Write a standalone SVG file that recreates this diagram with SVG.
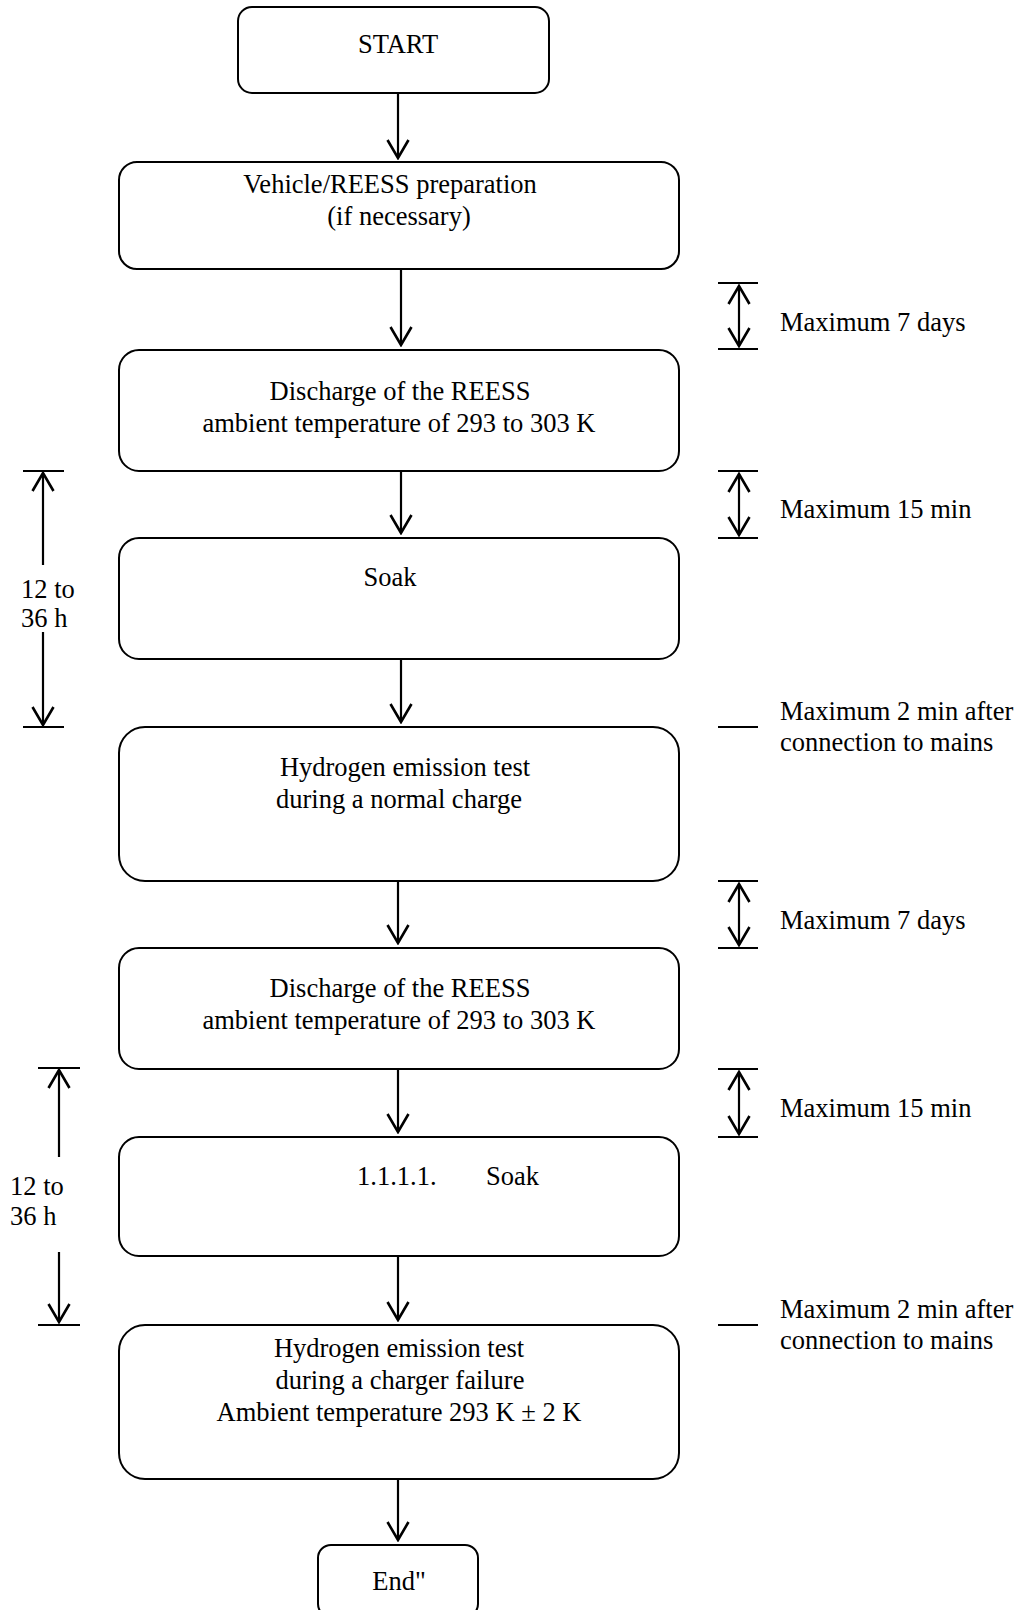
<svg xmlns="http://www.w3.org/2000/svg" width="1019" height="1610" viewBox="0 0 1019 1610">
<defs>
<style>
.box{fill:#fff;stroke:#000;stroke-width:2}
.ln{stroke:#000;stroke-width:2;fill:none}
.ar{stroke:#000;stroke-width:2.2;fill:none;marker-end:url(#ah)}
.dar{stroke:#000;stroke-width:2.2;fill:none;marker-end:url(#ah);marker-start:url(#ahs)}
text{font-family:"Liberation Serif","Times New Roman",serif;font-size:26.5px;fill:#000}
.c{text-anchor:middle}
</style>
<marker id="ah" viewBox="-20 -13 22 26" refX="0" refY="0" markerWidth="22" markerHeight="26" markerUnits="userSpaceOnUse" orient="auto">
<path d="M-18,-10.5 L0,0 L-18,10.5" fill="none" stroke="#000" stroke-width="2.6"/>
</marker>
<marker id="ahs" viewBox="-2 -13 22 26" refX="0" refY="0" markerWidth="22" markerHeight="26" markerUnits="userSpaceOnUse" orient="auto">
<path d="M18,-10.5 L0,0 L18,10.5" fill="none" stroke="#000" stroke-width="2.6"/>
</marker>
</defs>
<rect width="1019" height="1610" fill="#fff"/>

<g id="connectors">
<line class="ar" x1="398" y1="93" x2="398" y2="158"/>
<line class="ar" x1="401" y1="269" x2="401" y2="345"/>
<line class="ar" x1="401" y1="471" x2="401" y2="533"/>
<line class="ar" x1="401" y1="659" x2="401" y2="722"/>
<line class="ar" x1="398" y1="881" x2="398" y2="943"/>
<line class="ar" x1="398" y1="1069" x2="398" y2="1132"/>
<line class="ar" x1="398" y1="1256" x2="398" y2="1320"/>
<line class="ar" x1="398" y1="1479" x2="398" y2="1540"/>
</g>

<g id="right-markers">
<line class="ln" x1="718" y1="283" x2="758" y2="283"/>
<line class="ln" x1="718" y1="349" x2="758" y2="349"/>
<line class="dar" x1="739" y1="286" x2="739" y2="346"/>
<line class="ln" x1="718" y1="471" x2="758" y2="471"/>
<line class="ln" x1="718" y1="538" x2="758" y2="538"/>
<line class="dar" x1="739" y1="474" x2="739" y2="535"/>
<line class="ln" x1="718" y1="727" x2="758" y2="727"/>
<line class="ln" x1="718" y1="881" x2="758" y2="881"/>
<line class="ln" x1="718" y1="948" x2="758" y2="948"/>
<line class="dar" x1="739" y1="884" x2="739" y2="945"/>
<line class="ln" x1="718" y1="1069" x2="758" y2="1069"/>
<line class="ln" x1="718" y1="1137" x2="758" y2="1137"/>
<line class="dar" x1="739" y1="1072" x2="739" y2="1134"/>
<line class="ln" x1="718" y1="1325" x2="758" y2="1325"/>
<text x="780" y="331">Maximum 7 days</text>
<text x="780" y="518">Maximum 15 min</text>
<text x="780" y="720">Maximum 2 min after</text>
<text x="780" y="751">connection to mains</text>
<text x="780" y="929">Maximum 7 days</text>
<text x="780" y="1117">Maximum 15 min</text>
<text x="780" y="1318">Maximum 2 min after</text>
<text x="780" y="1349">connection to mains</text>
</g>

<g id="left-markers">
<line class="ln" x1="23" y1="471" x2="64" y2="471"/>
<line class="ar" x1="43" y1="565" x2="43" y2="473"/>
<line class="ar" x1="43" y1="632" x2="43" y2="725"/>
<line class="ln" x1="23" y1="727" x2="64" y2="727"/>
<text x="21" y="598">12 to</text>
<text x="21" y="627">36 h</text>
<line class="ln" x1="38" y1="1068" x2="80" y2="1068"/>
<line class="ar" x1="59" y1="1157" x2="59" y2="1070"/>
<line class="ar" x1="59" y1="1252" x2="59" y2="1322"/>
<line class="ln" x1="38" y1="1325" x2="80" y2="1325"/>
<text x="10" y="1195">12 to</text>
<text x="10" y="1225">36 h</text>
</g>

<g id="start">
<rect class="box" x="238" y="7" width="311" height="86" rx="14"/>
<text class="c" x="398" y="53">START</text>
</g>
<g id="prep">
<rect class="box" x="119" y="162" width="560" height="107" rx="18"/>
<text class="c" x="390" y="193">Vehicle/REESS preparation</text>
<text class="c" x="399" y="225">(if necessary)</text>
</g>
<g id="discharge1">
<rect class="box" x="119" y="350" width="560" height="121" rx="20"/>
<text class="c" x="400" y="400">Discharge of the REESS</text>
<text class="c" x="399" y="432">ambient temperature of 293 to 303 K</text>
</g>
<g id="soak1">
<rect class="box" x="119" y="538" width="560" height="121" rx="20"/>
<text class="c" x="390" y="586">Soak</text>
</g>
<g id="test1">
<rect class="box" x="119" y="727" width="560" height="154" rx="26"/>
<text class="c" x="405" y="776">Hydrogen emission test</text>
<text class="c" x="399" y="808">during a normal charge</text>
</g>
<g id="discharge2">
<rect class="box" x="119" y="948" width="560" height="121" rx="20"/>
<text class="c" x="400" y="997">Discharge of the REESS</text>
<text class="c" x="399" y="1029">ambient temperature of 293 to 303 K</text>
</g>
<g id="soak2">
<rect class="box" x="119" y="1137" width="560" height="119" rx="20"/>
<text x="357" y="1185">1.1.1.1.</text>
<text x="486" y="1185">Soak</text>
</g>
<g id="test2">
<rect class="box" x="119" y="1325" width="560" height="154" rx="26"/>
<text class="c" x="399" y="1357">Hydrogen emission test</text>
<text class="c" x="400" y="1389">during a charger failure</text>
<text class="c" x="399" y="1421">Ambient temperature 293 K ± 2 K</text>
</g>
<g id="end">
<rect class="box" x="318" y="1545" width="160" height="72" rx="13"/>
<text class="c" x="399" y="1590">End"</text>
</g>
</svg>
